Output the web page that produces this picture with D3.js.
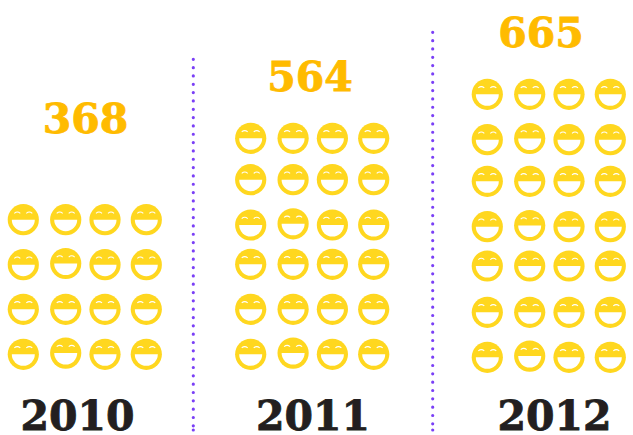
<!DOCTYPE html>
<html>
<head>
<meta charset="utf-8">
<script src="https://cdn.jsdelivr.net/npm/d3@7"></script>
<style>
    html, body { margin: 0; padding: 0; background: #fff; }
</style>
</head>
<body>
<div id="chart"></div>
<script>
// Chart values
const years = ["2010", "2011", "2012"];
const totals = [368, 564, 665];
const iconRows = [4, 6, 7];
const iconColumns = [0, 1, 2, 3];
// The second icon column sits a touch higher on these rows (counted from the top)
const liftedRows = [[1, 3], [2, 5], [1, 3, 6]];

const width = 633;
const height = 435;

const svg = d3.select("#chart")
    .append("svg")
    .attr("width", width)
    .attr("height", height)
    .style("display", "block");

// Scales
const groupX = d3.scaleOrdinal().domain(years).range([23.3, 250.7, 487.3]);
const columnX = d3.scaleOrdinal().domain(iconColumns).range([0, 42.4, 81.7, 123]);
const rowY = {
    "2010": d3.scaleOrdinal().domain(d3.range(4)).range([219.7, 264.7, 309.3, 354.3]),
    "2011": d3.scaleOrdinal().domain(d3.range(6)).range([138.3, 179.7, 225, 264.3, 309.3, 354.3]),
    "2012": d3.scaleOrdinal().domain(d3.range(7)).range([94.3, 139.7, 181.3, 226.7, 266, 312.3, 357.3])
};
const yearLabelX = d3.scaleOrdinal().domain(years).range([77.5, 313, 554.5]);
const totalX = d3.scaleOrdinal().domain(years).range([85.5, 310, 541]);
const totalY = d3.scaleOrdinal().domain(years).range([133, 90.5, 47]);

// Dotted separators
const separators = [
    { x: 193.3, top: 59.3 },
    { x: 432.7, top: 32.3 }
];

svg.selectAll("line.separator")
    .data(separators)
    .enter()
    .append("line")
    .attr("class", "separator")
    .attr("x1", d => d.x)
    .attr("x2", d => d.x)
    .attr("y1", d => d.top)
    .attr("y2", 427)
    .attr("stroke", "#7a3ff6")
    .attr("stroke-width", 3.2)
    .attr("stroke-linecap", "round")
    .attr("stroke-dasharray", "0 8.33");

// Each line closes with one extra dot at the bottom
svg.selectAll("circle.separator-end")
    .data(separators)
    .enter()
    .append("circle")
    .attr("class", "separator-end")
    .attr("cx", d => d.x)
    .attr("cy", 430)
    .attr("r", 1.6)
    .attr("fill", "#7a3ff6");

// Smiley icons
const iconData = years.flatMap((year, i) =>
    d3.range(iconRows[i]).flatMap(row =>
        iconColumns.map(column => ({
            year,
            row,
            column,
            lifted: column === 1 && liftedRows[i].includes(row)
        }))
    )
);

const mouth = d3.arc()
    .innerRadius(0)
    .outerRadius(11.5)
    .startAngle(Math.PI / 2)
    .endAngle(Math.PI * 1.5);

const icons = svg.selectAll("g.icon")
    .data(iconData)
    .enter()
    .append("g")
    .attr("class", "icon")
    .attr("transform", d => {
        const x = groupX(d.year) + columnX(d.column);
        const y = rowY[d.year](d.row) - (d.lifted ? 1.2 : 0);
        return `translate(${x},${y})`;
    });

icons.append("circle")
    .attr("r", 15.6)
    .attr("fill", "#ffd71f");

icons.append("path")
    .attr("d", mouth())
    .attr("fill", "#fff");

icons.selectAll("path.eye")
    .data([-6, 6])
    .enter()
    .append("path")
    .attr("class", "eye")
    .attr("d", d => `M${d - 3},-6.4 Q${d},-9 ${d + 3},-6.4`)
    .attr("fill", "none")
    .attr("stroke", "#fff")
    .attr("stroke-width", 1.1);

// Totals above each group
svg.selectAll("text.total")
    .data(years)
    .enter()
    .append("text")
    .attr("class", "total")
    .attr("x", d => totalX(d))
    .attr("y", d => totalY(d))
    .attr("text-anchor", "middle")
    .attr("font-family", "'DejaVu Serif', serif")
    .attr("font-weight", "bold")
    .attr("font-size", 41)
    .attr("fill", "#ffbb00")
    .attr("stroke", "#ffbb00")
    .attr("stroke-width", 0.8)
    .text((d, i) => totals[i]);

// Year labels
svg.selectAll("text.year")
    .data(years)
    .enter()
    .append("text")
    .attr("class", "year")
    .attr("x", d => yearLabelX(d))
    .attr("y", 430)
    .attr("text-anchor", "middle")
    .attr("font-family", "'DejaVu Serif', serif")
    .attr("font-weight", "bold")
    .attr("font-size", 41)
    .attr("fill", "#231f20")
    .attr("stroke", "#231f20")
    .attr("stroke-width", 0.8)
    .text(d => d);
</script>
</body>
</html>
